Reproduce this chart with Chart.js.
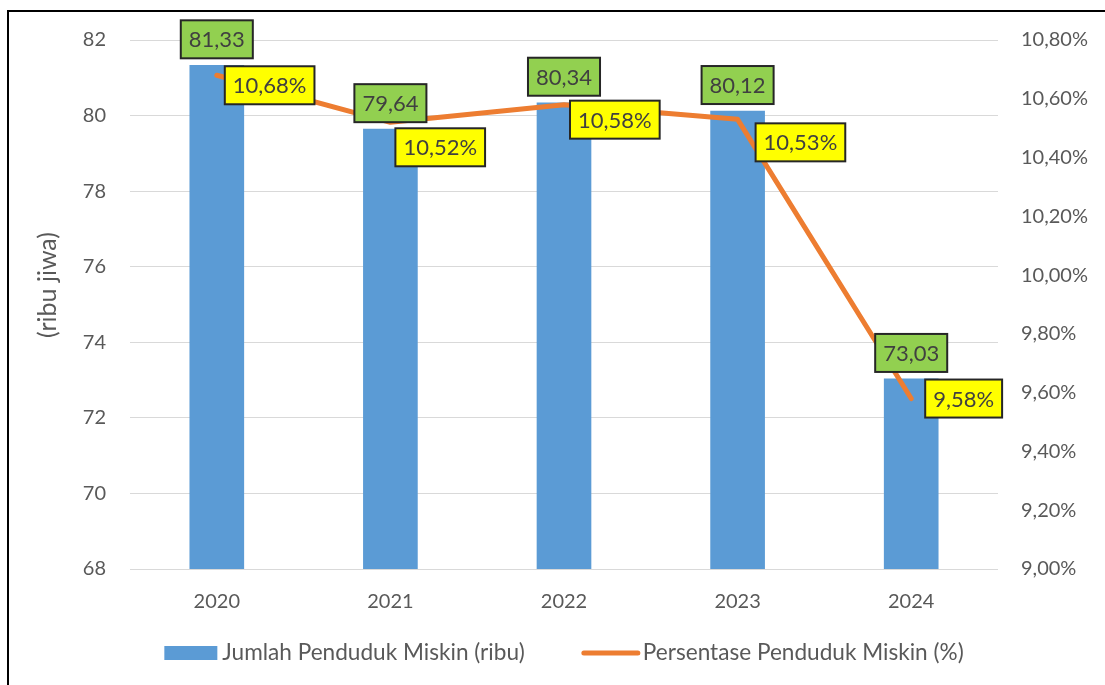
<!DOCTYPE html>
<html>
<head>
<meta charset="utf-8">
<script src="https://cdn.jsdelivr.net/npm/chart.js@4"></script>
<style>
    body { margin: 0; background: #fff; overflow: hidden; }
    #wrap { width: 1105px; height: 685px; position: relative; }
</style>
</head>
<body>
<div id="wrap"><canvas id="povChart"></canvas></div>
<script>
// Penduduk miskin 2020 - 2024

const years = ["2020", "2021", "2022", "2023", "2024"];
const jumlahMiskin = [81.33, 79.64, 80.34, 80.12, 73.03];
const persenMiskin = [10.68, 10.52, 10.58, 10.53, 9.58];
const leftTicks = [68, 70, 72, 74, 76, 78, 80, 82];
const yTitle = "(ribu jiwa)";

// where the yellow boxes sit relative to the line points (left, top)
const pctLabelOffset = [[8, -9], [5, 6], [6, -4], [18, 4], [14, -19]];

const txtColor = "#595959";
const fmt = (v, d) => v.toFixed(d).replace(".", ",");

function drawBox(ctx, text, x, y, fill) {
    ctx.font = "22px Lato";
    const w = ctx.measureText(text).width + 16;
    const h = 38;
    ctx.fillStyle = fill;
    ctx.fillRect(x, y, w, h);
    ctx.lineWidth = 2;
    ctx.strokeStyle = "#262626";
    ctx.strokeRect(x, y, w, h);
    ctx.fillStyle = "#404040";
    ctx.textAlign = "left";
    ctx.textBaseline = "middle";
    ctx.fillText(text, x + 8, y + h / 2 + 1);
    return w;
}

const labelPlugin = {
    id: "boxLabels",
    afterDatasetsDraw(chart) {
        const ctx = chart.ctx;
        ctx.save();
        // green boxes above the bars
        chart.getDatasetMeta(0).data.forEach((bar, i) => {
            const text = fmt(jumlahMiskin[i], 2);
            ctx.font = "22px Lato";
            const w = ctx.measureText(text).width + 16;
            drawBox(ctx, text, bar.x - w / 2, bar.y - 7 - 38, "#92D050");
        });
        // yellow boxes next to the line
        chart.getDatasetMeta(1).data.forEach((pt, i) => {
            const text = fmt(persenMiskin[i], 2) + "%";
            drawBox(ctx, text, pt.x + pctLabelOffset[i][0], pt.y + pctLabelOffset[i][1], "#FFFF00");
        });
        ctx.restore();
    }
};

const frameAndLegend = {
    id: "frameAndLegend",
    beforeDraw(chart) {
        const ctx = chart.ctx;
        ctx.save();
        ctx.lineWidth = 2;
        ctx.strokeStyle = "#000";
        ctx.strokeRect(8, 11, 1200, 800);
        ctx.restore();
    },
    afterDraw(chart) {
        const ctx = chart.ctx;
        const ds = chart.data.datasets;
        ctx.save();
        // axis title, Excel puts it a bit above the middle
        ctx.translate(48, 285);
        ctx.rotate(-Math.PI / 2);
        ctx.font = "25px Lato";
        ctx.fillStyle = txtColor;
        ctx.textAlign = "center";
        ctx.textBaseline = "middle";
        ctx.fillText(yTitle, 0, 0);
        ctx.restore();

        ctx.save();
        ctx.font = "22.6px Lato";
        ctx.textBaseline = "middle";
        ctx.textAlign = "left";
        const t1 = ctx.measureText(ds[0].label).width;
        const t2 = ctx.measureText(ds[1].label).width;
        const total = 53 + 5 + t1 + 57 + 58 + 3 + t2;
        const area = chart.chartArea;
        let x = (area.left + area.right) / 2 - total / 2;
        const y = 653;
        ctx.fillStyle = ds[0].backgroundColor;
        ctx.fillRect(x, y - 7, 53, 14);
        x += 58;
        ctx.fillStyle = txtColor;
        ctx.fillText(ds[0].label, x, y);
        x += t1 + 57;
        ctx.strokeStyle = ds[1].borderColor;
        ctx.lineWidth = 5;
        ctx.lineCap = "round";
        ctx.beginPath();
        ctx.moveTo(x + 2, y);
        ctx.lineTo(x + 56, y);
        ctx.stroke();
        x += 61;
        ctx.fillText(ds[1].label, x, y);
        ctx.restore();
    }
};

new Chart("povChart", {
    type: "bar",
    data: {
        labels: years,
        datasets: [{
            type: "bar",
            label: "Jumlah Penduduk Miskin (ribu)",
            data: jumlahMiskin,
            backgroundColor: "#5B9BD5",
            barThickness: 54,
            yAxisID: "y",
            order: 1
        }, {
            type: "line",
            label: "Persentase Penduduk Miskin (%)",
            data: persenMiskin,
            borderColor: "#ED7D31",
            backgroundColor: "#ED7D31",
            borderWidth: 5,
            borderCapStyle: "round",
            borderJoinStyle: "round",
            pointRadius: 0,
            tension: 0,
            yAxisID: "y1",
            order: 0
        }]
    },
    options: {
        responsive: true,
        maintainAspectRatio: false,
        animation: false,
        layout: {
            padding: { top: 40, bottom: 66, left: 0, right: 0 }
        },
        scales: {
            x: {
                grid: { display: false },
                border: { display: false },
                ticks: {
                    color: txtColor,
                    font: { family: "Lato", size: 20 },
                    padding: 13
                },
                afterFit: s => { s.height = 50; }
            },
            y: {
                position: "left",
                min: 68,
                max: 82,
                afterBuildTicks: s => { s.ticks = leftTicks.map(v => ({ value: v })); },
                grid: { color: "#D9D9D9", lineWidth: 1, drawTicks: false },
                border: { display: false },
                ticks: {
                    color: txtColor,
                    font: { family: "Lato", size: 20 },
                    padding: 24
                },
                afterFit: s => { s.width = 130; }
            },
            y1: {
                position: "right",
                min: 9,
                max: 10.8,
                grid: { drawOnChartArea: false, drawTicks: false },
                border: { display: false },
                ticks: {
                    stepSize: 0.2,
                    color: txtColor,
                    font: { family: "Lato", size: 20 },
                    padding: 23,
                    callback: v => fmt(v, 2) + "%"
                },
                afterFit: s => { s.width = 107; }
            }
        },
        plugins: {
            legend: { display: false },
            tooltip: { enabled: false }
        }
    },
    plugins: [labelPlugin, frameAndLegend]
});
</script>
</body>
</html>
